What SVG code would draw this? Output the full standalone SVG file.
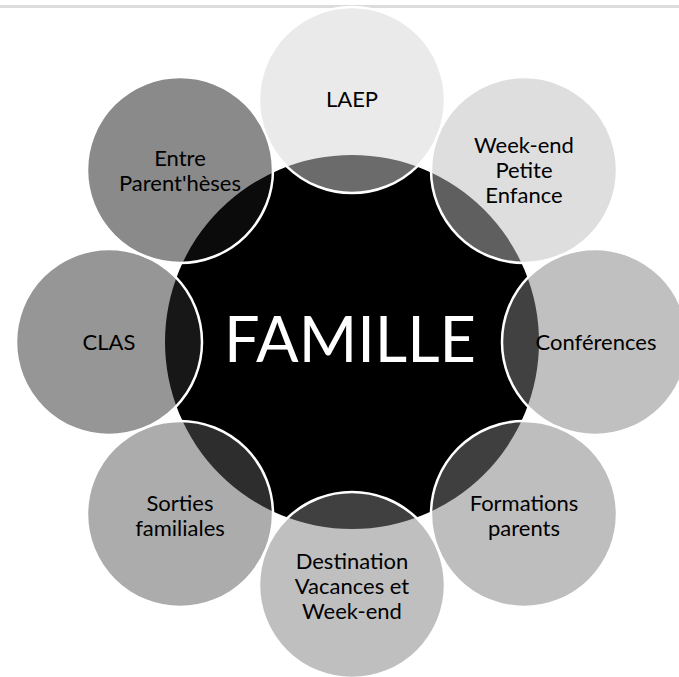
<svg xmlns="http://www.w3.org/2000/svg" width="679" height="677" viewBox="0 0 679 677">
  <style>
    .sat { fill-opacity: 0.5; stroke: #ffffff; stroke-width: 2.5; }
    .lbl { font-family: "Lato", "Open Sans", "Liberation Sans", sans-serif; font-size: 22px; fill: #000000; text-anchor: middle; }
    .hub { font-family: "Lato", "Open Sans", "Liberation Sans", sans-serif; font-size: 63px; fill: #ffffff; text-anchor: middle; }
  </style>
  <rect x="0" y="0" width="679" height="677" fill="#ffffff"/>
  <rect x="0" y="5" width="679" height="3" fill="#dcdcdc"/>
  <g id="famille">
    <circle cx="352" cy="342" r="187" fill="#000000"/>
    <text class="hub" x="350" y="362">FAMILLE</text>
  </g>
  <g id="laep">
    <circle class="sat" cx="352" cy="100" r="93" fill="#d6d6d6"/>
    <text class="lbl" x="352" y="107">LAEP</text>
  </g>
  <g id="weekend-petite-enfance">
    <circle class="sat" cx="524" cy="170" r="93" fill="#bdbdbd"/>
    <text class="lbl" x="524" y="153">Week-end</text>
    <text class="lbl" x="524" y="178">Petite</text>
    <text class="lbl" x="524" y="203">Enfance</text>
  </g>
  <g id="conferences">
    <circle class="sat" cx="595" cy="342" r="93" fill="#818181"/>
    <text class="lbl" x="596" y="350">Conférences</text>
  </g>
  <g id="formations-parents">
    <circle class="sat" cx="524" cy="514" r="93" fill="#7d7d7d"/>
    <text class="lbl" x="524" y="511">Formations</text>
    <text class="lbl" x="524" y="536">parents</text>
  </g>
  <g id="destination-vacances">
    <circle class="sat" cx="352" cy="585" r="93" fill="#7f7f7f"/>
    <text class="lbl" x="352" y="569">Destination</text>
    <text class="lbl" x="352" y="594">Vacances et</text>
    <text class="lbl" x="352" y="619">Week-end</text>
  </g>
  <g id="sorties-familiales">
    <circle class="sat" cx="180" cy="514" r="93" fill="#595959"/>
    <text class="lbl" x="180" y="511">Sorties</text>
    <text class="lbl" x="180" y="536">familiales</text>
  </g>
  <g id="clas">
    <circle class="sat" cx="109" cy="342" r="93" fill="#2d2d2d"/>
    <text class="lbl" x="109" y="350">CLAS</text>
  </g>
  <g id="entre-parentheses">
    <circle class="sat" cx="180" cy="170" r="93" fill="#151515"/>
    <text class="lbl" x="180" y="166">Entre</text>
    <text class="lbl" x="180" y="191">Parent'hèses</text>
  </g>
</svg>
